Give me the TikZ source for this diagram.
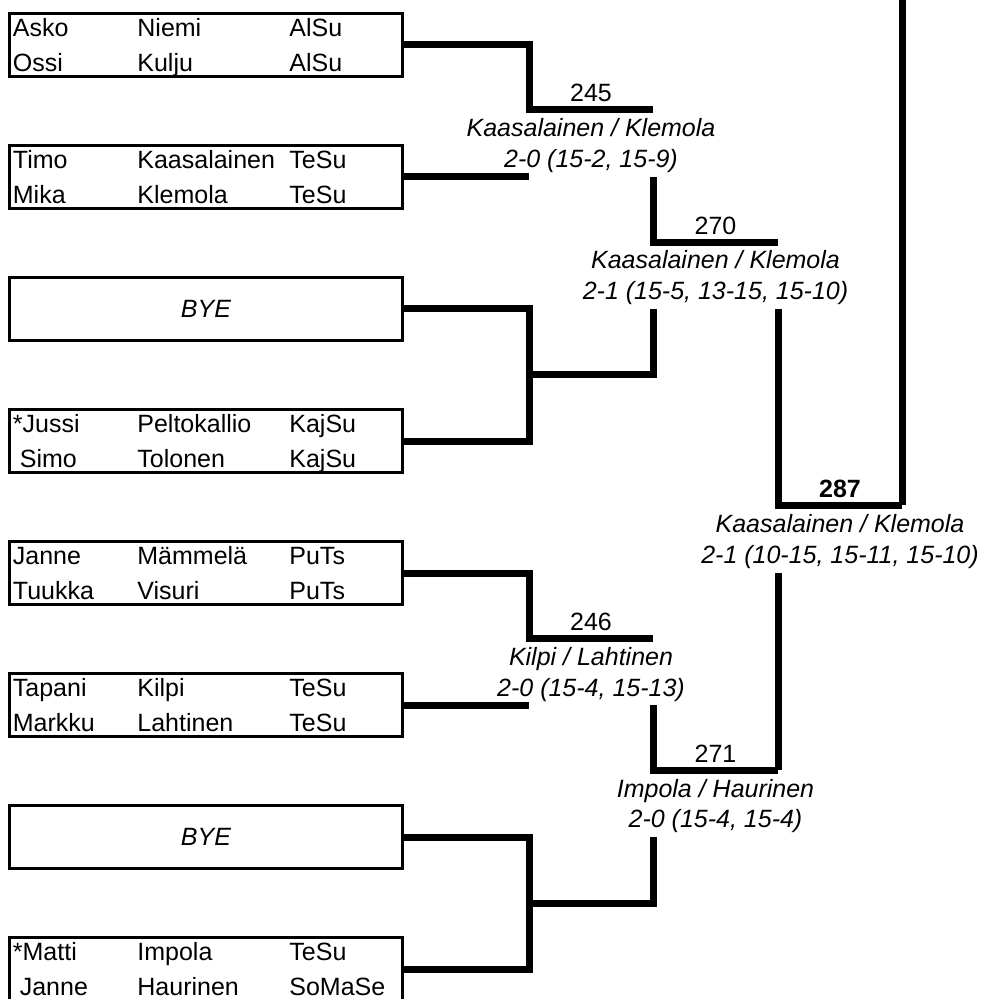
\documentclass[tikz,border=0pt]{standalone}
\usepackage{fontspec}
\setmainfont{Liberation Sans}
\usetikzlibrary{calc}

\tikzset{
  entry/.style={draw, line width=1.6pt, minimum width=196.5pt, minimum height=31.5pt, inner sep=0pt},
  cell/.style={anchor=base west, inner sep=0pt},
  num/.style={anchor=base, inner sep=0pt},
  res/.style={anchor=base, inner sep=0pt, font=\fontsize{12.5pt}{15pt}\selectfont\itshape},
  wire/.style={line width=3.5pt}
}

\begin{document}
\begin{tikzpicture}[x=0.5pt,y=-0.5pt,every node/.style={font=\fontsize{12.5pt}{15pt}\selectfont}]
\useasboundingbox (0,0) rectangle (986,999);
\clip (0,0) rectangle (986,999);

% player boxes
\foreach \i/\y/\fa/\la/\ca/\fb/\lb/\cb in {
	1/45/Asko/Niemi/AlSu/Ossi/Kulju/AlSu,
	2/177/Timo/Kaasalainen/TeSu/Mika/Klemola/TeSu,
	4/441/*Jussi/Peltokallio/KajSu/\ Simo/Tolonen/KajSu,
	5/573/Janne/Mämmelä/PuTs/Tuukka/Visuri/PuTs,
	6/705/Tapani/Kilpi/TeSu/Markku/Lahtinen/TeSu,
	8/969/*Matti/Impola/TeSu/\ Janne/Haurinen/SoMaSe}
{
	\node[entry] (p\i) at (206,\y) {};
	\node[cell] (p\i-a) at (12.5,{\y-8.5}) {\fa};
	\node[cell] (p\i-b) at (137,{\y-8.5}) {\la};
	\node[cell] (p\i-c) at (289,{\y-8.5}) {\ca};
	\node[cell] (p\i-d) at (12.5,{\y+26.5}) {\fb};
	\node[cell] (p\i-e) at (137,{\y+26.5}) {\lb};
	\node[cell] (p\i-f) at (289,{\y+26.5}) {\cb};
}
\node[entry] (p3) at (206,309) {\itshape BYE};
\node[entry] (p7) at (206,837) {\itshape BYE};

% match lines
\coordinate (a245) at (529,110); \coordinate (b245) at (653,110);
\coordinate (a270) at (653,243); \coordinate (b270) at (778,243);
\coordinate (a287) at (778,505); \coordinate (b287) at (902,505);
\coordinate (a246) at (529,638); \coordinate (b246) at (653,638);
\coordinate (a271) at (653,770); \coordinate (b271) at (778,770);
\coordinate (j1) at (529,375);
\coordinate (j2) at (529,903);
\coordinate (top) at (902,-10);

% results
\node[num] (n245) at (591,102) {245};
\node[res] (w245) at (591,137) {Kaasalainen / Klemola};
\node[res] (s245) at (591,168) {2-0 (15-2, 15-9)};

\node[num] (n270) at (715.5,235) {270};
\node[res] (w270) at (715.5,269) {Kaasalainen / Klemola};
\node[res] (s270) at (715.5,300) {2-1 (15-5, 13-15, 15-10)};

\node[num] (n287) at (840,497) {\bfseries 287};
\node[res] (w287) at (840,532) {Kaasalainen / Klemola};
\node[res] (s287) at (840,563) {2-1 (10-15, 15-11, 15-10)};

\node[num] (n246) at (591,630) {246};
\node[res] (w246) at (591,665) {Kilpi / Lahtinen};
\node[res] (s246) at (591,696) {2-0 (15-4, 15-13)};

\node[num] (n271) at (715.5,762) {271};
\node[res] (w271) at (715.5,797) {Impola / Haurinen};
\node[res] (s271) at (715.5,827) {2-0 (15-4, 15-4)};

% upper half
\draw[wire] (p1.east) -| (a245) -- (b245);
\draw[wire] (p2.east) -- (p2.east -| a245);
\draw[wire] (b245 |- p2.east) |- (b270);
\draw[wire] (p3.east) -| (j1) |- (p4.east);
\draw[wire] (j1) -| (a270 |- p3.east);
\draw[wire] (b270 |- p3.east) |- (b287);
\draw[wire] (b287) -- (top);

% lower half
\draw[wire] (p5.east) -| (a246) -- (b246);
\draw[wire] (p6.east) -- (p6.east -| a246);
\draw[wire] (b246 |- p6.east) |- (b271);
\draw[wire] (b271) -- (b271 |- p5.east);
\draw[wire] (p7.east) -| (j2) |- (p8.east);
\draw[wire] (j2) -| (a271 |- p7.east);

\end{tikzpicture}
\end{document}
